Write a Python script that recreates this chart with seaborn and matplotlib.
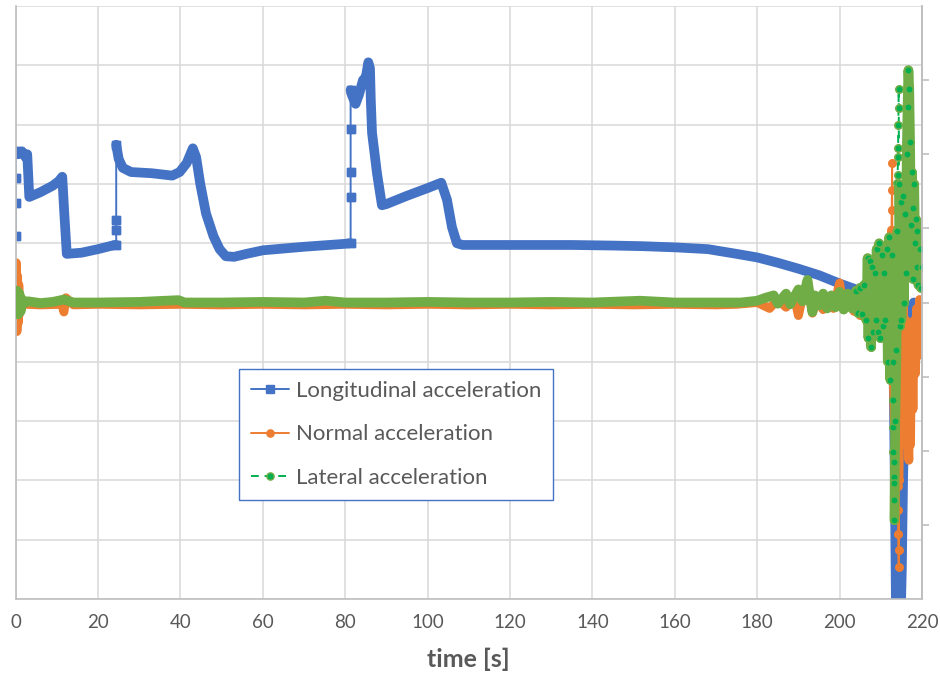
import numpy as np
import pandas as pd
import matplotlib
matplotlib.use("Agg")
import matplotlib.pyplot as plt
import seaborn as sns

# ---------------- data ----------------
x_ticks = [0, 20, 40, 60, 80, 100, 120, 140, 160, 180, 200, 220]
series_names = ["Longitudinal acceleration", "Normal acceleration", "Lateral acceleration"]

long_t = [0, 0, 0, 0, 0.6, 1.5, 2.4, 2.8, 3.3, 6, 9, 10.5, 11.3, 11.8, 12.4, 16, 20, 24.0,
          24.4, 24.4, 24.4, 24.4, 25.0, 26, 28, 33, 38, 39.8, 41.5, 43.0, 43.8, 44.8, 46.2, 48,
          49.5, 51, 53, 56, 60, 70, 80,
          81.3, 81.3, 81.3, 81.3, 81.3, 81.6, 82.5, 83.3, 84.3, 85.0, 85.6, 86.0, 86.2, 86.5,
          87.7, 88.9, 90, 95, 100, 103.3, 104.7, 105.9, 107.1, 108.5, 115, 125, 135, 145, 152,
          160, 168, 175, 180, 185, 190, 195, 200, 204, 207, 210, 212.3, 213.0, 213.4, 213.7,
          214.2, 214.8, 215.1, 215.4, 215.8, 216.2, 216.6, 217.2, 218, 219, 220.0]
long_v = [1.12, 1.67, 2.1, 2.55, 2.5, 2.55, 2.45, 2.5, 1.78, 1.86, 1.97, 2.05, 2.12, 1.5, 0.82,
          0.84, 0.9, 0.97,
          0.97, 1.22, 1.39, 2.66, 2.42, 2.27, 2.2, 2.18, 2.14, 2.2, 2.35, 2.6, 2.45, 2.0, 1.5,
          1.12, 0.9, 0.78, 0.77, 0.82, 0.88, 0.94, 0.99,
          1.0, 1.78, 2.2, 2.92, 3.58, 3.5, 3.35, 3.5, 3.75, 3.8, 4.05, 3.95, 3.41, 2.86,
          2.18, 1.64, 1.66, 1.8, 1.93, 2.02, 1.73, 1.27, 1.0, 0.97, 0.97, 0.97, 0.97, 0.96, 0.95,
          0.93, 0.9, 0.82, 0.76, 0.67, 0.57, 0.46, 0.32, 0.22, 0.15, 0.08, 0.0, -0.5, -3.0, -5.3,
          -5.5, -5.4, -4.5, -3.0, -1.7, -1.8, -0.7, -0.2, 0.0, -0.05, -0.1]

norm_t = [0, 0.15, 0.3, 0.45, 0.6, 0.75, 0.9, 1.1, 1.4, 1.8, 2.5, 6, 11.2, 11.7, 12.2, 14, 20,
          30, 40, 50, 60, 70, 80, 90, 100, 110, 120, 130, 140, 150, 160, 170, 175, 180, 183,
          185, 187, 189, 190, 191, 192.5, 193.4, 194.5, 196, 197, 198.5, 200, 201, 202.5, 203.5,
          204.0, 204.5, 205.0, 205.5, 206.0, 206.5, 207.0, 207.5, 208.0, 208.5, 209.0, 209.4,
          209.8, 210.2, 210.6, 211.0, 211.4, 211.8, 212.2, 212.6, 212.65, 212.7, 212.75, 212.8,
          213.0, 213.3, 213.6, 213.9, 214.1, 214.15, 214.2, 214.25, 214.3, 214.35, 214.4,
          214.6, 214.9, 215.2, 215.5, 215.8, 216.1, 216.4, 216.6, 216.8, 217.0, 217.2, 217.5,
          217.8, 218.1, 218.4, 218.7, 219.0, 219.4, 219.8, 220.2]
norm_v = [0.0, 0.67, -0.49, 0.45, -0.35, 0.3, -0.2, 0.1, -0.1, 0.0, -0.03, -0.04, -0.03, -0.16,
          0.08, -0.04, -0.03, -0.04, -0.03, -0.04, -0.03, -0.04, -0.03, -0.04, -0.03, -0.04,
          -0.03, -0.04, -0.03, -0.04, -0.03, -0.04, -0.03, 0.0, -0.1, 0.05, -0.08, 0.1, -0.22,
          0.1, 0.2, -0.18, 0.05, -0.12, 0.08, -0.1, 0.33, -0.12, 0.1, -0.15,
          -0.15, 0.15, -0.22, 0.1, -0.25, 0.3, -0.2, 0.4, -0.3, 0.6, -0.2, 0.97,
          -0.3, 0.5, -0.3, 0.4, -0.5, 0.8, -0.9, 1.22, 1.56, 1.9, 2.35, 1.0,
          -1.2, -2.0, -2.3, -1.6, -2.8, -3.1, -3.5, -3.9, -4.17, -4.46, -3.0,
          -2.0, -0.5, -1.0, 0.0, -1.5, -0.3, -2.0, -2.3, -2.66, -1.5, -2.4, -0.5,
          -1.8, -0.3, -1.2, -0.1, -0.9, 0.05, -0.7, -0.3]

lat_t = [0, 0.3, 0.6, 0.9, 1.2, 1.6, 2.2, 3, 6, 9, 11.7, 14, 20, 30, 39.5, 41, 50, 60, 70, 75.2,
         80, 90, 100, 110, 120, 130, 140, 151.5, 160, 170, 176, 180, 182, 184, 185, 187, 188,
         190, 191, 192.2, 192.8, 193.4, 194, 195, 196, 197, 198, 199, 200, 201, 202, 203,
         204.0, 204.5, 205.0, 205.5, 206.0, 206.5, 206.8, 207.0, 207.3, 207.6, 207.9, 208.2,
         208.5, 208.8, 209.0, 209.3, 209.6, 209.9, 210.2, 210.5, 210.8, 211.1, 211.4, 211.7,
         212.0, 212.3, 212.6, 212.9,
         212.95, 213.0, 213.05, 213.1, 213.15, 213.2, 213.25, 213.3,
         213.5, 213.8, 214.0,
         214.05, 214.1, 214.15, 214.2, 214.25, 214.3, 214.35, 214.4,
         214.6, 214.8, 215.0, 215.3, 215.6, 215.9, 216.1, 216.3, 216.5, 216.7, 216.9, 217.1,
         217.3, 217.5, 217.7, 217.9, 218.1, 218.3, 218.5, 218.7, 218.9, 219.1, 219.4, 219.7,
         220.0]
lat_v = [0.0, 0.2, -0.2, 0.15, -0.15, 0.05, 0.0, 0.02, -0.01, 0.01, 0.05, 0.0, 0.0, 0.01, 0.04,
         0.0, 0.0, 0.01, 0.0, 0.03, 0.0, 0.0, 0.01, 0.0, 0.0, 0.01, 0.0, 0.03, 0.0, 0.0,
         0.0, 0.03, 0.08, 0.12, -0.02, 0.15, -0.03, 0.22, 0.02, 0.38, 0.1, -0.16, 0.12, -0.05,
         0.15, -0.1, 0.12, -0.08, 0.18, -0.12, 0.15, -0.1,
         0.2, -0.18, 0.25, -0.2, 0.3, -0.3, 0.75, -0.6, 0.7, -0.75, 0.6, -0.5,
         0.5, -0.3, 0.9, -0.5, 1.0, -0.6, 0.8, -0.4, 0.5, -0.3, 0.9, -1.0,
         1.1, -1.3, 0.8, -1.0,
         -1.64, -2.1, -2.52, -2.69, -2.94, -3.05, -3.33, -3.67,
         -2.0, -0.8, 1.2,
         2.01, 2.15, 2.45, 2.6, 2.99, 3.28, 3.6, 2.0,
         -0.4, 1.7, -0.3, 1.8, 0.0, 1.5, 0.5, 2.5, 3.3, 3.92, 3.6, 2.7,
         1.3, 2.2, 0.4, 1.6, 2.0, 1.0, 1.4, 0.6, 1.2, 0.3, 0.9, 0.25,
         0.6]

# ---------------- style ----------------
sns.set_theme(style="white")
plt.rcParams["font.family"] = ["Lato", "DejaVu Sans"]

BLUE = "#4472C4"
ORANGE = "#ED7D31"
GREEN_BAND = "#70AD47"
GREEN_LINE = "#00B050"
GRID = "#D9D9D9"
AXIS = "#BFBFBF"
TXT = "#595959"

fig = plt.figure(figsize=(9.4, 6.77), dpi=100)
ax = fig.add_axes([15.7 / 940, 1 - 599 / 677, (922 - 15.7) / 940, (599 - 6) / 677])

THIN_LW = 1.4
MS = 5.2
MIN_DT = 0.1


def band_frame(t, v):
    dt = np.diff(t, prepend=-1e9)
    seg = np.cumsum(dt < MIN_DT)
    return pd.DataFrame({"t": t, "v": v, "seg": seg})


def marker_mask(t, t_from):
    d = np.diff(t)
    thin = np.zeros(len(t), bool)
    thin[1:] |= d < MIN_DT
    thin[:-1] |= d < MIN_DT
    return thin | (t >= t_from)


def draw(t, v, color, band_color, band_lw, marker, label, z, ls="-", mfc=None, mec=None,
         t_from=1e9):
    tt = np.asarray(t, float)
    vv = np.asarray(v, float)
    mask = marker_mask(tt, t_from)
    mk = dict(marker=marker, markersize=MS, markerfacecolor=mfc or color,
              markeredgecolor=mec or color, markeredgewidth=1.0)
    # thin connecting line (visible where samples are sparse), carries the legend entry
    sns.lineplot(x=tt, y=vv, estimator=None, sort=False, color=color, lw=THIN_LW,
                 linestyle=ls, markevery=list(mask), label=label, ax=ax, zorder=z, **mk)
    # dense-sample band
    df = band_frame(tt, vv)
    sns.lineplot(data=df, x="t", y="v", units="seg", estimator=None, sort=False,
                 color=band_color, lw=band_lw, legend=False, ax=ax, zorder=z + 0.1,
                 solid_capstyle="round", solid_joinstyle="round")
    # visible markers on top of the band
    sns.scatterplot(x=tt[mask], y=vv[mask], marker=marker, s=MS ** 2, color=mfc or color,
                    edgecolor=mec or color, linewidth=1.0, legend=False, ax=ax,
                    zorder=z + 0.2)


draw(long_t, long_v, BLUE, BLUE, 7.0, "s", series_names[0], 2.0)
draw(norm_t, norm_v, ORANGE, ORANGE, 6.4, "o", series_names[1], 2.3)
draw(lat_t, lat_v, GREEN_LINE, GREEN_BAND, 7.0, "o", series_names[2], 2.6, ls=(0, (4, 3)),
     mfc=GREEN_LINE, mec=GREEN_BAND, t_from=204)

ax.set_xlim(0, 220)
ax.set_ylim(-5, 5)
ax.set_xticks(x_ticks)
ax.set_xticklabels([str(x) for x in x_ticks])
ax.set_yticks(np.arange(-5, 6, 1))
ax.set_yticklabels([])
ax.grid(True, color=GRID, lw=1.1)
ax.set_axisbelow(True)
ax.tick_params(axis="x", length=0, pad=11, labelsize=13.5, labelcolor=TXT)
ax.tick_params(axis="y", length=0)
ax.spines["top"].set_visible(False)
for s in ["left", "bottom", "right"]:
    ax.spines[s].set_color(AXIS)
    ax.spines[s].set_linewidth(1.2)
ax.set_xlabel("time [s]", fontsize=18, fontweight="bold", color=TXT, labelpad=12)
ax.set_ylabel("")

ax2 = ax.twinx()
ax2.set_ylim(-4, 4)
ax2.set_yticks(np.arange(-3, 4, 1))
ax2.set_yticklabels([])
ax2.grid(False)
ax2.tick_params(axis="y", direction="out", length=5, width=1.2, color=AXIS)
for s in ["top", "left", "bottom"]:
    ax2.spines[s].set_visible(False)
ax2.spines["right"].set_color(AXIS)
ax2.spines["right"].set_linewidth(1.2)

handles, labels = ax.get_legend_handles_labels()
leg = ax.legend(handles, labels, loc="upper left", bbox_to_anchor=(0.2464, 0.388),
                frameon=True, fancybox=False, edgecolor=BLUE, facecolor="white",
                framealpha=1, fontsize=16, labelcolor=TXT, handlelength=1.7,
                handletextpad=0.3, labelspacing=1.05, borderpad=0.55, borderaxespad=0)
leg.get_frame().set_linewidth(1.0)
leg.set_zorder(10)

fig.savefig("out.png", dpi=100)
